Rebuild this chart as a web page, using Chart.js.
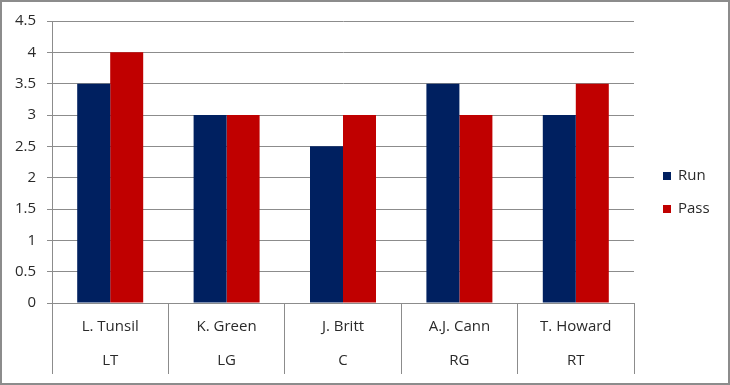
<!DOCTYPE html>
<html lang="en">
<head>
    <meta charset="UTF-8">
    <title>Offensive Line Grades</title>
    <script src="https://cdn.jsdelivr.net/npm/chart.js"></script>
    <style>
        body {
            margin: 0;
            background: #fff;
        }
        #wrap {
            position: relative;
            width: 730px;
            height: 385px;
        }
    </style>
</head>
<body>

<div id="wrap">
    <canvas id="myChart"></canvas>
</div>

<script>
    // chart data
    const players = ["L. Tunsil", "K. Green", "J. Britt", "A.J. Cann", "T. Howard"];
    const positions = ["LT", "LG", "C", "RG", "RT"];
    const runGrades = [3.5, 3, 2.5, 3.5, 3];
    const passGrades = [4, 3, 3, 3, 3.5];
    const seriesNames = ["Run", "Pass"];
    const seriesColors = ["#002060", "#C00000"];

    const fontFamily = "'Open Sans', sans-serif";
    const textColor = "#2a2a2a";
    const lineColor = "#8c8c8c";

    // draws the two-row category labels, the legend and the outer frame
    const extras = {
        id: 'extras',
        afterDraw(chart) {
            const ctx = chart.ctx;
            const x = chart.scales.x;
            const area = chart.chartArea;
            ctx.save();
            ctx.fillStyle = textColor;
            ctx.font = "15px " + fontFamily;
            ctx.textAlign = 'center';
            ctx.textBaseline = 'middle';
            players.forEach((p, i) => {
                const cx = x.getPixelForValue(i);
                ctx.fillText(p, cx, area.bottom + 24);
                ctx.fillText(positions[i], cx, area.bottom + 58);
            });

            // legend
            ctx.textAlign = 'left';
            seriesNames.forEach((name, i) => {
                const ly = 176 + i * 33;
                ctx.fillStyle = seriesColors[i];
                ctx.fillRect(663, ly - 4, 8, 8);
                ctx.fillStyle = textColor;
                ctx.fillText(name, 678, ly);
            });

            // frame
            ctx.strokeStyle = lineColor;
            ctx.lineWidth = 2;
            ctx.strokeRect(1, 1, chart.width - 2, chart.height - 2);
            ctx.restore();
        }
    };

    const ctx = document.getElementById('myChart').getContext('2d');
    const chart = new Chart(ctx, {
        type: 'bar',
        data: {
            labels: players,
            datasets: [
                {
                    label: seriesNames[0],
                    data: runGrades,
                    backgroundColor: seriesColors[0]
                },
                {
                    label: seriesNames[1],
                    data: passGrades,
                    backgroundColor: seriesColors[1]
                }
            ]
        },
        options: {
            responsive: true,
            maintainAspectRatio: false,
            animation: false,
            categoryPercentage: 0.567,
            barPercentage: 1,
            layout: {
                padding: { left: 0, top: 21, right: 96, bottom: 11 }
            },
            plugins: {
                legend: { display: false },
                tooltip: { enabled: false }
            },
            scales: {
                x: {
                    offset: true,
                    afterFit: s => { s.height = 71; },
                    ticks: { display: false },
                    grid: {
                        offset: true,
                        drawOnChartArea: false,
                        drawTicks: true,
                        tickLength: 71,
                        color: lineColor,
                        lineWidth: 1
                    },
                    border: { display: true, color: lineColor, width: 1 }
                },
                y: {
                    min: 0,
                    max: 4.5,
                    afterFit: s => { s.width = 52; },
                    ticks: {
                        stepSize: 0.5,
                        padding: 11,
                        color: textColor,
                        font: { family: fontFamily, size: 15 },
                        callback: v => String(v)
                    },
                    grid: {
                        color: lineColor,
                        lineWidth: 1,
                        tickLength: 5
                    },
                    border: { display: true, color: lineColor, width: 1 }
                }
            }
        },
        plugins: [extras]
    });
</script>

</body>
</html>
